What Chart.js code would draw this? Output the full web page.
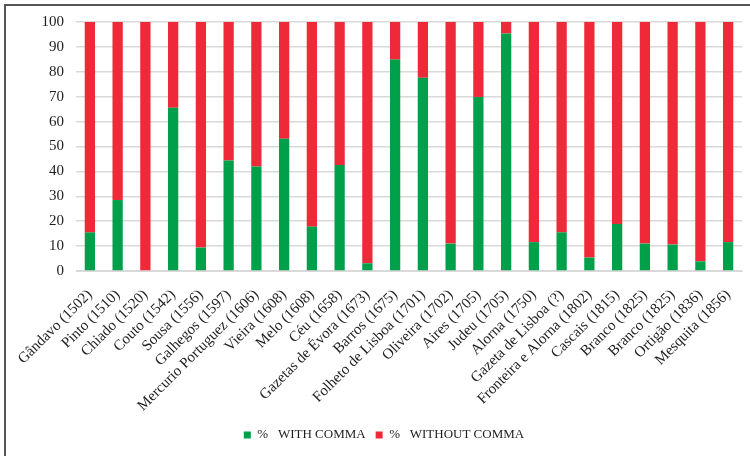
<!DOCTYPE html>
<html>
<head>
<meta charset="utf-8">
<script src="https://cdn.jsdelivr.net/npm/chart.js@4"></script>
<style>
  html, body { margin: 0; padding: 0; background: #fff; }
  #wrap { position: relative; width: 750px; height: 456px; }
  #frame {
    position: absolute; left: 4px; top: 4px; right: -10px; bottom: -10px;
    border-top: 2px solid #555; border-left: 2px solid #555;
    pointer-events: none;
  }
  canvas { display: block; }
</style>
</head>
<body>
<div id="wrap">
  <canvas id="chart" width="750" height="456"></canvas>
  <div id="frame"></div>
</div>
<script>
// ==================== Comma usage by source ====================

const SOURCES = [
    'Gândavo (1502)', 'Pinto (1510)', 'Chiado (1520)', 'Couto (1542)', 'Sousa (1556)',
    'Galhegos (1597)', 'Mercurio Portuguez (1606)', 'Vieira (1608)', 'Melo (1608)', 'Céu (1658)',
    'Gazetas de Évora (1673)', 'Barros (1675)', 'Folheto de Lisboa (1701)', 'Oliveira (1702)',
    'Aires (1705)', 'Judeu (1705)', 'Alorna (1750)', 'Gazeta de Lisboa (?)',
    'Fronteira e Alorna (1802)', 'Cascais (1815)', 'Branco (1825)', 'Branco (1825)',
    'Ortigão (1836)', 'Mesquita (1856)'
];

const WITH_COMMA = [
    15.5, 28.5, 0, 65.6, 9.4, 44.4, 42.0, 53.1, 17.8, 42.6, 3.1, 84.9,
    77.6, 11.0, 69.9, 95.4, 11.6, 15.5, 5.4, 18.9, 11.0, 10.6, 3.9, 11.6
];

const WITHOUT_COMMA = [
    84.5, 71.5, 100, 34.4, 90.6, 55.6, 58.0, 46.9, 82.2, 57.4, 96.9, 15.1,
    22.4, 89.0, 30.1, 4.6, 88.4, 84.5, 94.6, 81.1, 89.0, 89.4, 96.1, 88.4
];

const Y_TICKS = [0, 10, 20, 30, 40, 50, 60, 70, 80, 90, 100];

const GREEN = '#00a04b';
const RED = '#ee2a39';
const FONT = "'Liberation Serif', 'DejaVu Serif', serif";
const TEXT = '#1e1e1e';

const ctx = document.getElementById('chart').getContext('2d');
new Chart(ctx, {
    type: 'bar',
    data: {
        labels: SOURCES,
        datasets: [
            { label: '%   WITH COMMA', data: WITH_COMMA, backgroundColor: GREEN, borderWidth: 0 },
            { label: '%   WITHOUT COMMA', data: WITHOUT_COMMA, backgroundColor: RED, borderWidth: 0 }
        ]
    },
    options: {
        responsive: false,
        animation: false,
        devicePixelRatio: 1,
        // left padding pushes the legend centre a little to the right
        layout: { padding: { top: 22, right: 8, bottom: 4.5, left: 26 } },
        datasets: { bar: { barPercentage: 0.37, categoryPercentage: 1 } },
        plugins: {
            tooltip: { enabled: false },
            legend: {
                position: 'bottom',
                labels: {
                    boxWidth: 7, boxHeight: 7, padding: 10,
                    color: TEXT, font: { family: FONT, size: 13 }
                }
            }
        },
        scales: {
            x: {
                stacked: true,
                grid: { display: false },
                border: { color: '#d9d9d9', width: 1 },
                ticks: {
                    autoSkip: false, minRotation: 45, maxRotation: 45,
                    padding: 7, color: TEXT, font: { family: FONT, size: 15 }
                },
                afterFit: s => { s.height = 147.5; }
            },
            y: {
                stacked: true,
                min: 0, max: 100,
                afterBuildTicks: s => { s.ticks = Y_TICKS.map(v => ({ value: v })); },
                grid: { color: '#d9d9d9', lineWidth: 1.5, drawTicks: false },
                border: { display: false },
                ticks: { padding: 12, color: TEXT, font: { family: FONT, size: 15 } },
                afterFit: s => { s.width = 50; }
            }
        }
    }
});
</script>
</body>
</html>
